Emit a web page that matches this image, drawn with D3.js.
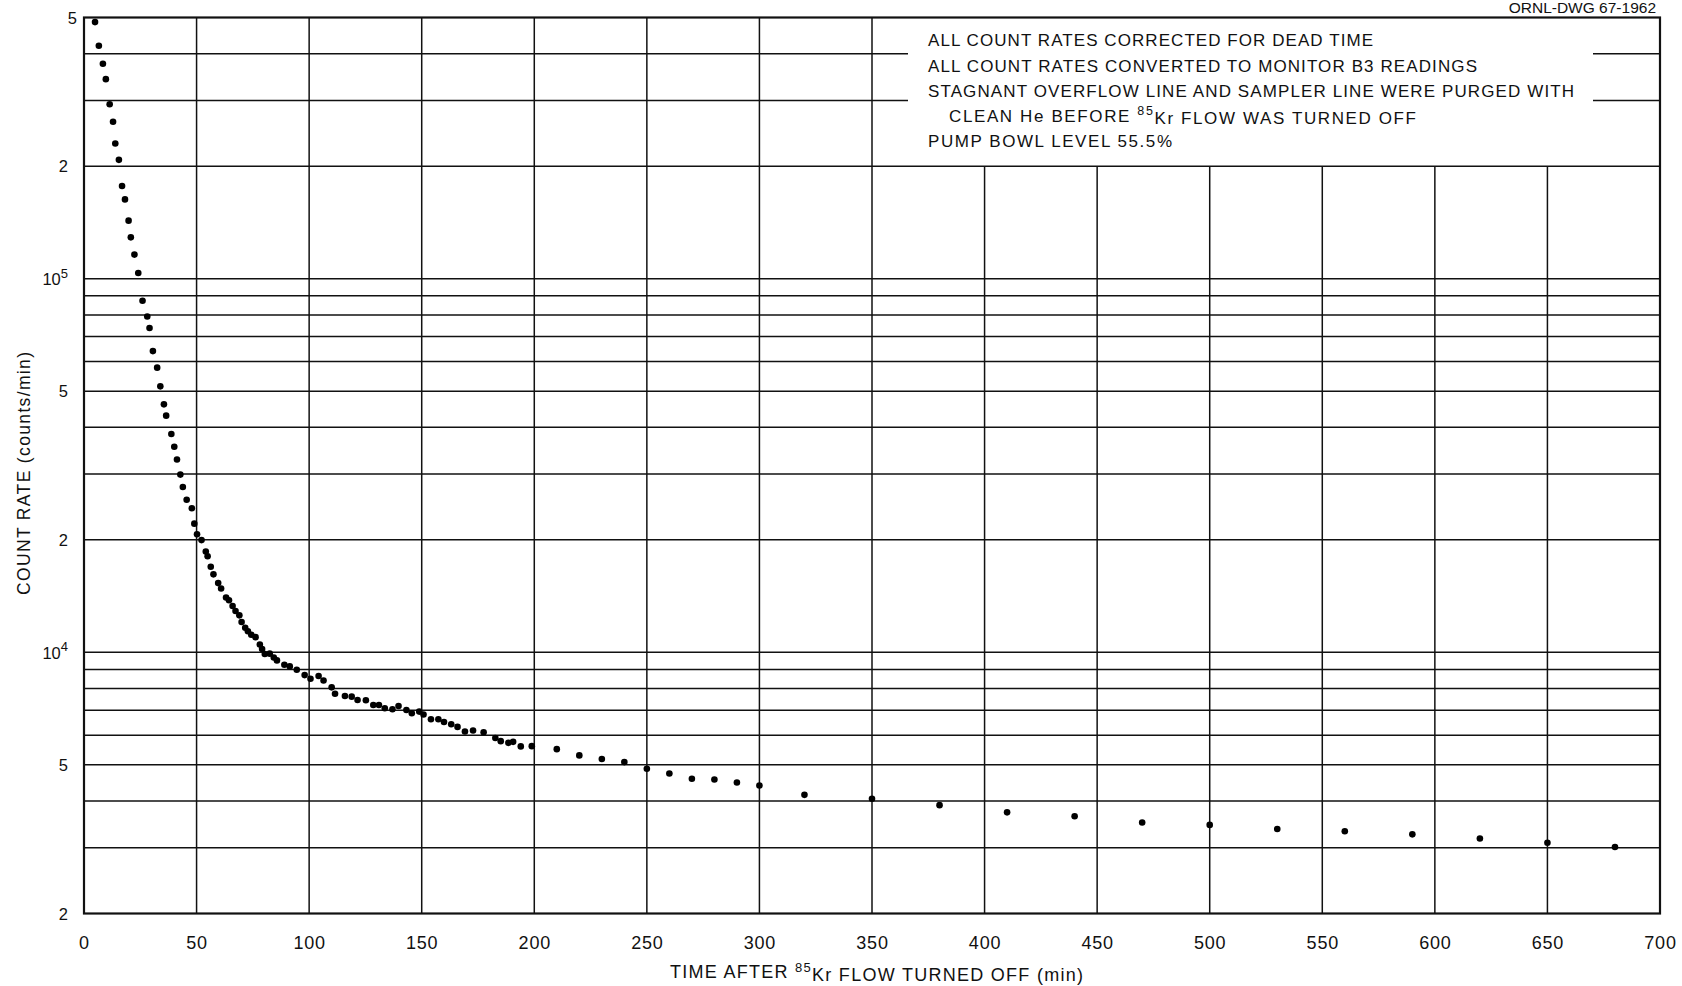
<!DOCTYPE html>
<html>
<head>
<meta charset="utf-8">
<script src="https://cdn.jsdelivr.net/npm/d3@7"></script>
<style>
  html, body { margin: 0; padding: 0; background: #fff; }
  svg { display: block; }
  text { font-family: "Liberation Sans", Arial, sans-serif; fill: #111; }
</style>
</head>
<body>
<svg id="chart" width="1682" height="986"></svg>
<script>
// ---- data ----
const times = [4.9, 6.6, 8.4, 9.7, 11.4, 12.9, 13.9, 15.5, 16.9, 18.2, 19.8, 20.8, 22.4, 24.1, 26.0, 28.1, 29.1, 30.6, 32.5, 33.9,
  35.5, 36.5, 38.8, 40.1, 41.3, 42.8, 43.9, 45.6, 47.9, 49.0, 50.2, 52.2, 54.1, 54.9, 56.3, 57.5, 59.6, 60.9, 63.1, 64.4,
  66.0, 67.3, 69.0, 70.0, 71.6, 72.8, 74.3, 76.2, 78.1, 79.1, 80.3, 82.5, 84.3, 85.7, 89.0, 91.4, 94.5, 98.0, 100.6, 104.2,
  106.4, 110.0, 111.5, 115.9, 118.9, 121.5, 125.2, 128.5, 131.0, 133.6, 137.0, 139.7, 143.2, 145.6, 148.9, 150.8, 154.1, 157.4, 159.9, 163.1,
  165.9, 169.2, 172.8, 177.5, 182.7, 185.1, 188.5, 190.6, 194.0, 198.9, 210, 220, 230, 240, 250, 260, 270, 280, 290, 300,
  320, 350, 380, 410, 440, 470, 500, 530, 560, 590, 620, 650, 680];
const counts = [486000, 420000, 376000, 342000, 293000, 263000, 230000, 208000, 177000, 163000, 143000, 129000, 116000, 103600, 87300, 79200, 73800, 64000, 57800, 51500,
  46100, 43000, 38400, 35500, 32800, 29900, 27700, 25600, 24300, 22100, 20700, 19970, 18600, 18080, 16950, 16170, 15320, 14820, 14020, 13780,
  13300, 12900, 12560, 12050, 11640, 11390, 11140, 10980, 10490, 10210, 9900, 9920, 9690, 9515, 9265, 9170, 8980, 8690, 8500, 8640,
  8410, 8060, 7750, 7640, 7610, 7455, 7440, 7230, 7230, 7085, 7040, 7185, 7010, 6870, 6940, 6815, 6620, 6620, 6510, 6420,
  6315, 6140, 6175, 6110, 5900, 5785, 5725, 5760, 5600, 5610, 5506, 5298, 5180, 5084, 4880, 4740, 4590, 4567, 4483, 4401,
  4155, 4055, 3899, 3730, 3640, 3505, 3453, 3367, 3319, 3257, 3176, 3092, 3013];

const xTicks = [0, 50, 100, 150, 200, 250, 300, 350, 400, 450, 500, 550, 600, 650, 700];
const yTickValues = [500000, 200000, 100000, 50000, 20000, 10000, 5000, 2000];
const yTickMantissa = ["5", "2", "10", "5", "2", "10", "5", "2"];
const yTickExponent = ["", "", "5", "", "", "4", "", ""];
const noteLines = [
  "ALL COUNT RATES CORRECTED FOR DEAD TIME",
  "ALL COUNT RATES CONVERTED TO MONITOR B3 READINGS",
  "STAGNANT OVERFLOW LINE AND SAMPLER LINE WERE PURGED WITH",
  "CLEAN He BEFORE |85|Kr FLOW WAS TURNED OFF",
  "PUMP BOWL LEVEL 55.5%"
];
const xTitle = ["TIME AFTER ", "85", "Kr FLOW TURNED OFF (min)"];
const yTitle = "COUNT RATE (counts/min)";
const drawingNo = "ORNL-DWG 67-1962";

// ---- layout ----
const L = 84, R = 1660, T = 17.5, B = 913.5;
const svg = d3.select("#chart");
const x = d3.scaleLinear().domain([0, 700]).range([L, R]);
const y = d3.scaleLog().domain([2000, 500000]).range([B, T]);

// note box region (grid hidden there)
const boxBottom = y(200000);
const boxHLeft = 908, boxHRight = 1593;

// horizontal grid lines: k * 10^n
const hGrid = [];
[1000, 10000, 100000].forEach(p => {
  for (let k = 1; k <= 9; k++) {
    const v = k * p;
    if (v > 2000 && v < 500000) hGrid.push(v);
  }
});
const gGrid = svg.append("g").attr("stroke", "#111").attr("stroke-width", 1.5);
hGrid.forEach(v => {
  const yy = y(v);
  if (v > 200000) {
    gGrid.append("line").attr("x1", L).attr("x2", boxHLeft).attr("y1", yy).attr("y2", yy);
    gGrid.append("line").attr("x1", boxHRight).attr("x2", R).attr("y1", yy).attr("y2", yy);
  } else {
    gGrid.append("line").attr("x1", L).attr("x2", R).attr("y1", yy).attr("y2", yy);
  }
});
xTicks.slice(1, -1).forEach(t => {
  const xx = x(t);
  const top = t > 350 ? boxBottom : T;
  gGrid.append("line").attr("x1", xx).attr("x2", xx).attr("y1", top).attr("y2", B);
});

// frame
svg.append("rect").attr("x", L).attr("y", T).attr("width", R - L).attr("height", B - T)
  .attr("fill", "none").attr("stroke", "#111").attr("stroke-width", 2.2);

// x axis
const xAxis = d3.axisBottom(x).tickValues(xTicks).tickSize(0).tickFormat(d3.format("d"));
const gx = svg.append("g").attr("transform", `translate(0,${B})`).call(xAxis);
gx.select(".domain").remove();
gx.selectAll("text").attr("y", 29).attr("dy", "0.35em")
  .style("font-size", "18px").style("letter-spacing", "0.8px")
  .style("font-family", '"Liberation Sans", Arial, sans-serif').attr("fill", "#111");

// y axis
const yAxis = d3.axisLeft(y).tickValues(yTickValues).tickSize(0).tickFormat(() => "");
const gy = svg.append("g").attr("transform", `translate(${L},0)`).call(yAxis);
gy.select(".domain").remove();
gy.selectAll(".tick").each(function(d, i) {
  const txt = d3.select(this).select("text");
  txt.attr("x", i === 0 ? -7 : -16).attr("dy", "0.35em").attr("text-anchor", "end")
    .style("font-size", "16.5px").style("font-family", '"Liberation Sans", Arial, sans-serif').attr("fill", "#111");
  txt.text(null);
  txt.append("tspan").text(yTickMantissa[i]);
  if (yTickExponent[i]) {
    txt.append("tspan").attr("dy", "-0.55em").style("font-size", "13px").text(yTickExponent[i]);
  }
});

// data points
svg.append("g").selectAll("circle")
  .data(times.map((t, i) => ({ t, v: counts[i] })))
  .join("circle")
  .attr("cx", d => x(d.t))
  .attr("cy", d => y(d.v))
  .attr("r", 3.3)
  .attr("fill", "#000");

// note lines
const noteX = [928, 928, 928, 949, 928];
const noteW = [445, 549, 646, 467, 244];
const noteY = [45.7, 71.5, 96.7, 121.7, 147.3];
noteLines.forEach((line, i) => {
  const t = svg.append("text").attr("x", noteX[i]).attr("y", noteY[i])
    .style("font-size", "17px")
    .attr("textLength", noteW[i]).attr("lengthAdjust", "spacing");
  line.split("|").forEach((part, j) => {
    if (j % 2 === 1) {
      t.append("tspan").attr("dy", "-0.5em").style("font-size", "12.5px").text(part);
    } else if (j > 0) {
      t.append("tspan").attr("dy", "0.5em").text(part);
    } else {
      t.append("tspan").text(part);
    }
  });
});

// x axis title
const xt = svg.append("text").attr("x", 670).attr("y", 978)
  .style("font-size", "18px").attr("textLength", 413).attr("lengthAdjust", "spacing");
xt.append("tspan").text(xTitle[0]);
xt.append("tspan").attr("dy", "-0.5em").style("font-size", "13px").text(xTitle[1]);
xt.append("tspan").attr("dy", "0.5em").text(xTitle[2]);

// y axis title
svg.append("text")
  .attr("transform", "translate(30,473.5) rotate(-90)")
  .attr("text-anchor", "middle")
  .style("font-size", "17.5px")
  .attr("textLength", 243).attr("lengthAdjust", "spacing")
  .text(yTitle);

// drawing number (top right corner)
svg.append("text").attr("x", 1656).attr("y", 13).attr("text-anchor", "end")
  .style("font-size", "15.5px").text(drawingNo);
</script>
</body>
</html>
